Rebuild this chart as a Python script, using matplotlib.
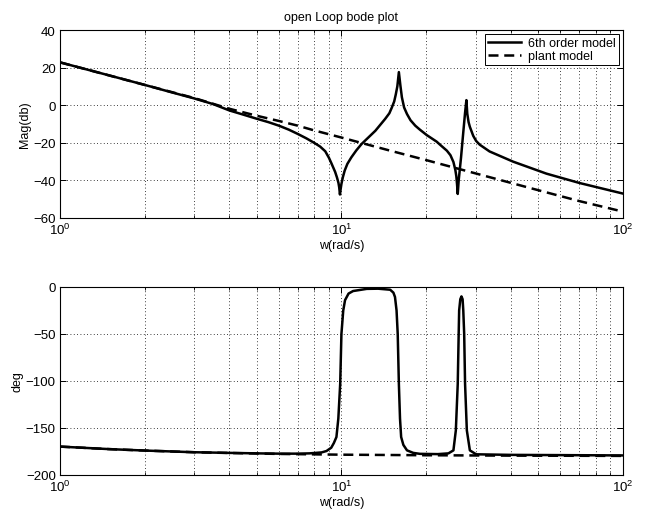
import matplotlib
matplotlib.use("Agg")
import matplotlib.pyplot as plt
from matplotlib.ticker import LogLocator, FixedLocator, NullFormatter

# ---- frequency response samples (rad/s, dB, deg) ----
w_mag_6th = [1.0, 1.5, 2.0, 2.5, 3.0, 3.5, 4.0, 4.5, 5.0, 5.5, 6.0, 6.5, 7.0,
             7.5, 8.0, 8.4, 8.76, 9.03, 9.22, 9.5, 9.64, 9.76, 9.82, 9.88, 9.94,
             10.0, 10.12, 10.27, 10.5, 10.85, 11.3, 11.8, 12.5, 13.2, 14.3, 14.8,
             15.1, 15.4, 15.6, 15.8, 16.0, 16.2, 16.4, 16.7, 17.1, 17.6, 18.3,
             19.0, 20.1, 21.8, 22.4, 23.7, 24.4, 25.0, 25.4, 25.6, 25.75, 25.9,
             26.1, 26.6, 27.1, 27.5, 27.8, 28.0, 28.3, 28.6, 29.4, 30.1, 31.0,
             33.6, 40.7, 53.5, 70.2, 100.0]
mag_6th = [22.8, 15.8, 10.8, 6.8, 3.6, 0.6, -2.8, -5.1, -7.2, -9.0, -10.9,
           -13.0, -15.3, -17.6, -20.0, -22.0, -24.5, -28.0, -31.0, -35.5, -38.4,
           -41.3, -43.7, -47.5, -44.5, -41.9, -38.3, -34.8, -31.2, -27.7, -24.0,
           -20.6, -17.0, -13.6, -7.3, -4.3, -1.3, 2.0, 5.7, 10.0, 17.6, 10.5,
           4.2, -1.2, -4.7, -8.0, -10.9, -13.0, -15.9, -19.4, -21.0, -24.2,
           -26.6, -30.2, -34.5, -37.8, -42.0, -47.2, -40.0, -28.0, -14.4, -4.0,
           2.7, -4.5, -9.0, -11.5, -16.3, -19.0, -21.0, -24.6, -30.0, -36.4,
           -41.4, -47.0]

w_mag_plant = [1.0, 2.0, 3.0, 4.0, 5.0, 6.0, 7.0, 8.0, 10.0, 12.0, 15.0, 20.0,
               30.0, 50.0, 70.0, 100.0]
mag_plant = [22.8, 10.8, 3.8, -1.9, -5.6, -8.4, -10.9, -13.4, -17.2, -20.4,
             -24.3, -29.2, -36.3, -45.2, -51.0, -56.6]

w_ph_6th = [1.0, 1.5, 2.0, 3.0, 4.0, 5.0, 6.0, 7.0, 7.7, 8.5, 8.85, 9.2, 9.4,
            9.6, 9.75, 9.9, 10.0, 10.15, 10.3, 10.6, 11.0, 12.3, 13.5, 14.9,
            15.3, 15.5, 15.7, 15.85, 16.0, 16.15, 16.3, 16.6, 17.1, 18.0, 19.0,
            22.0, 24.0, 25.0, 25.5, 25.9, 26.1, 26.2, 26.45, 26.7, 26.95, 27.1,
            27.3, 27.5, 27.9, 28.6, 30.1, 40.0, 100.0]
ph_6th = [-169.8, -172.5, -174.0, -175.8, -176.5, -177.0, -177.3, -177.3,
          -177.0, -176.0, -174.5, -171.0, -166.0, -159.6, -140.0, -103.0, -50.0,
          -25.0, -14.0, -7.0, -4.3, -2.0, -1.8, -2.9, -6.0, -10.6, -25.0, -50.0,
          -103.0, -140.0, -159.6, -168.0, -173.8, -176.5, -177.5, -177.8, -177.0,
          -173.8, -152.5, -103.0, -49.7, -24.9, -13.0, -10.0, -13.0, -24.9,
          -49.7, -103.0, -152.5, -173.8, -178.0, -178.6, -179.2]

w_ph_plant = [1.0, 1.5, 2.0, 3.0, 4.0, 6.0, 10.0, 20.0, 40.0, 100.0]
ph_plant = [-169.8, -172.5, -174.0, -175.8, -176.6, -177.6, -178.4, -179.0,
            -179.4, -179.7]

mag_ticks = [-60, -40, -20, 0, 20, 40]
ph_ticks = [-200, -150, -100, -50, 0]

plt.rcParams.update({
    "font.family": ["Liberation Sans", "DejaVu Sans"],
    "font.size": 9,
    "mathtext.fontset": "custom",
    "mathtext.rm": "Liberation Sans",
    "mathtext.default": "regular",
    "axes.linewidth": 0.8,
    "xtick.direction": "in",
    "ytick.direction": "in",
    "xtick.top": True,
    "ytick.right": True,
})

fig = plt.figure(figsize=(6.47, 5.10), dpi=100)
ax1 = fig.add_axes([0.0927, 0.5706, 0.870, 0.3686])
ax2 = fig.add_axes([0.0927, 0.0667, 0.870, 0.3686])

grid_kw = dict(color="black", linestyle=(0, (1, 3)), linewidth=0.6)


def style_axes(ax, yticks):
    ax.set_xscale("log")
    ax.set_xlim(1, 100)
    ax.set_ylim(yticks[0], yticks[-1])
    ax.yaxis.set_major_locator(FixedLocator(yticks))
    ax.xaxis.set_major_locator(LogLocator(base=10, numticks=5))
    ax.xaxis.set_minor_locator(LogLocator(base=10, subs=range(2, 10), numticks=20))
    ax.xaxis.set_minor_formatter(NullFormatter())
    ax.grid(True, which="major", **grid_kw)
    ax.grid(True, which="minor", axis="x", **grid_kw)
    ax.tick_params(which="major", length=4, width=0.7, labelsize=9.5, pad=3)
    ax.tick_params(which="minor", length=2.5, width=0.6)
    ax.set_axisbelow(True)


line_kw = dict(color="black", linewidth=1.8)
dash = (0, (4, 2.3))

ax1.plot(w_mag_6th, mag_6th, "-", label="6th order model", **line_kw)
ax1.plot(w_mag_plant, mag_plant, linestyle=dash, label="plant model", **line_kw)
style_axes(ax1, mag_ticks)
ax1.set_ylabel("Mag(db)", fontsize=9, labelpad=2)
ax1.set_xlabel("w(rad/s)", fontsize=9, labelpad=1)
ax1.set_title("open Loop bode plot", fontsize=9, pad=7)
leg = ax1.legend(loc="upper right", fontsize=9, frameon=True, fancybox=False,
                 edgecolor="black", framealpha=1, handlelength=2.6,
                 borderaxespad=0.3, borderpad=0.25, labelspacing=0.1,
                 handletextpad=0.6)
leg.get_frame().set_linewidth(0.7)

ax2.plot(w_ph_6th, ph_6th, "-", **line_kw)
ax2.plot(w_ph_plant, ph_plant, linestyle=dash, **line_kw)
style_axes(ax2, ph_ticks)
ax2.set_ylabel("deg", fontsize=9, labelpad=2)
ax2.set_xlabel("w(rad/s)", fontsize=9, labelpad=1)

fig.savefig("out.png", dpi=100)
